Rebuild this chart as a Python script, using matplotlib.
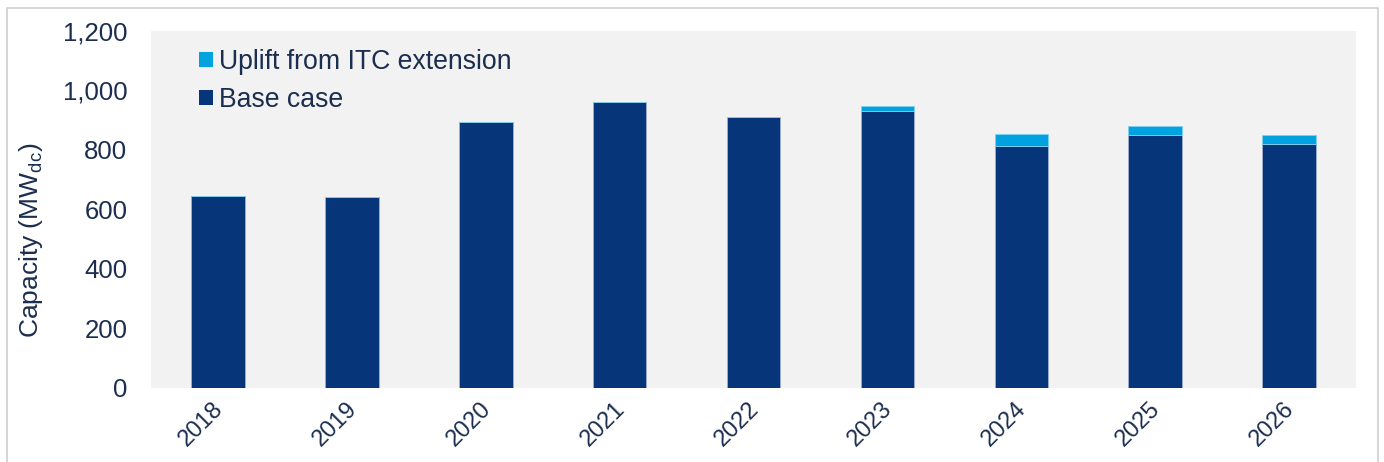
import matplotlib
matplotlib.use("Agg")
import matplotlib.pyplot as plt
from matplotlib.patches import Patch, Rectangle
from matplotlib.transforms import ScaledTranslation
import numpy as np

# Data (MWdc)
years = ["2018", "2019", "2020", "2021", "2022", "2023", "2024", "2025", "2026"]
base_case = [644, 641, 894, 961, 911, 932, 812, 851, 821]
uplift_itc = [0, 0, 0, 0, 0, 16, 42, 30, 29]
y_ticks = [0, 200, 400, 600, 800, 1000, 1200]

BASE_COLOR = "#06357a"
UPLIFT_COLOR = "#00a3e0"
TEXT_COLOR = "#1b2e4f"
BG_COLOR = "#f2f2f2"

plt.rcParams["font.family"] = ["Liberation Sans", "DejaVu Sans"]
plt.rcParams["mathtext.fontset"] = "custom"
plt.rcParams["mathtext.rm"] = "Liberation Sans"

fig = plt.figure(figsize=(13.84, 4.62), dpi=100)
ax = fig.add_axes([0.1091, 0.1602, 0.9798 - 0.1091, 0.9329 - 0.1602])
ax.set_facecolor(BG_COLOR)

# light border around the whole figure
fig.patches.append(Rectangle((7 / 1384, -0.1), 1371 / 1384, 1.1 - 8 / 462,
                             transform=fig.transFigure, fill=False,
                             edgecolor="#d0d0d0", linewidth=1.2))

x = np.arange(len(years))
ax.bar(x, base_case, width=0.4, color=BASE_COLOR, edgecolor="#9fb0cc",
       linewidth=0.6, zorder=2)
ax.bar(x, uplift_itc, width=0.4, bottom=base_case, color=UPLIFT_COLOR,
       edgecolor="#7fd0ef", linewidth=0.6, zorder=2)

ax.set_xlim(-0.5, len(years) - 0.5)
ax.set_ylim(0, 1200)
ax.set_yticks(y_ticks)
ax.set_yticklabels([f"{v:,}" for v in y_ticks])
ax.set_xticks(x)
ax.set_xticklabels(years, rotation=45, ha="right", rotation_mode="anchor")

ax.tick_params(axis="y", length=0, pad=17, labelsize=18.5, labelcolor=TEXT_COLOR)
ax.tick_params(axis="x", length=0, pad=7, labelsize=17, labelcolor=TEXT_COLOR)
shift = ScaledTranslation(-6 / 100, 0, fig.dpi_scale_trans)
for lbl in ax.get_xticklabels():
    lbl.set_transform(lbl.get_transform() + shift)
for s in ax.spines.values():
    s.set_visible(False)

ax.set_ylabel(r"Capacity (MW$_{\mathrm{dc}}$)", fontsize=19, color=TEXT_COLOR,
              labelpad=13)
ax.yaxis.label.set_y(0.415)

handles = [Patch(facecolor=UPLIFT_COLOR, label="Uplift from ITC extension"),
           Patch(facecolor=BASE_COLOR, label="Base case")]
ax.legend(handles=handles, loc="upper left", bbox_to_anchor=(0.04, 0.95),
          frameon=False, fontsize=19.2, labelcolor=TEXT_COLOR,
          handlelength=0.5, handleheight=0.5, handletextpad=0.25,
          labelspacing=0.45, borderpad=0, borderaxespad=0)

fig.savefig("out.png", dpi=100, facecolor="white")
